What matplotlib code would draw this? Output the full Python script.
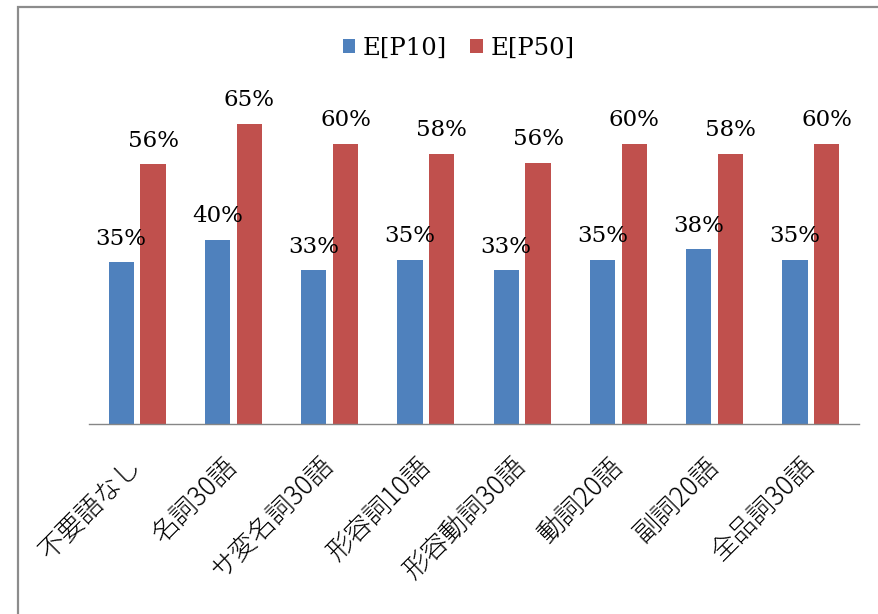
import matplotlib
matplotlib.use("Agg")
import matplotlib.pyplot as plt
import numpy as np
from matplotlib.patches import Patch, Rectangle
from matplotlib.transforms import ScaledTranslation

# Categories and series values (fractions)
categories = ["不要語なし", "名詞30語", "サ変名詞30語", "形容詞10語",
              "形容動詞30語", "動詞20語", "副詞20語", "全品詞30語"]
p10 = [0.348, 0.396, 0.331, 0.353, 0.331, 0.353, 0.376, 0.353]
p50 = [0.559, 0.646, 0.603, 0.581, 0.562, 0.603, 0.581, 0.603]
series_names = ["E[P10]", "E[P50]"]

BLUE = "#4F81BD"
RED = "#C0504D"
LABEL_FONT = "DejaVu Serif"
CJK_FONT = ["Noto Sans CJK JP", "DejaVu Sans"]

W, H = 879, 614
fig = plt.figure(figsize=(W / 100, H / 100), dpi=100)
ax = fig.add_axes([89 / W, 190 / H, 770 / W, 325.5 / H])

x = np.arange(len(categories))
bw = 0.26
off = 0.165
b1 = ax.bar(x - off, p10, width=bw, color=BLUE, zorder=2)
b2 = ax.bar(x + off, p50, width=bw, color=RED, zorder=2)

# value labels above each bar
for bars, vals in ((b1, p10), (b2, p50)):
    for rect, v in zip(bars, vals):
        ax.annotate(f"{v:.0%}", (rect.get_x() + rect.get_width() / 2, v),
                    xytext=(0, 12.5), textcoords="offset points",
                    ha="center", va="baseline", fontsize=16.5,
                    family=LABEL_FONT, color="#000000", zorder=5)

ax.set_xlim(-0.5, len(categories) - 0.5)
ax.set_ylim(0, 0.70)
ax.set_yticks([])
for s in ("left", "right", "top"):
    ax.spines[s].set_visible(False)
ax.spines["bottom"].set_color("#868686")
ax.spines["bottom"].set_linewidth(1.0)

ax.set_xticks(x)
ax.set_xticklabels(categories, rotation=45, ha="right", va="top",
                   rotation_mode="anchor", fontsize=19, family=CJK_FONT,
                   fontweight="light")
ax.tick_params(axis="x", length=0, pad=20)
shift = ScaledTranslation(-10 / 100, 0, fig.dpi_scale_trans)
for lbl in ax.get_xticklabels():
    lbl.set_transform(lbl.get_transform() + shift)

# legend
handles = [Patch(facecolor=BLUE, edgecolor="none"),
           Patch(facecolor=RED, edgecolor="none")]
fig.legend(handles, series_names, loc="center", ncol=2,
           bbox_to_anchor=(0.5216, 0.9218), frameon=False,
           prop={"family": LABEL_FONT, "size": 17.5},
           handlelength=0.53, handleheight=0.53, handletextpad=0.3,
           columnspacing=0.95)

# outer chart border
fig.patches.append(Rectangle((18 / W, -0.1), 1.1, (614 - 7) / H + 0.1,
                             transform=fig.transFigure, fill=False,
                             edgecolor="#8c8c8c", linewidth=1.6))

fig.savefig("out.png", dpi=100)
